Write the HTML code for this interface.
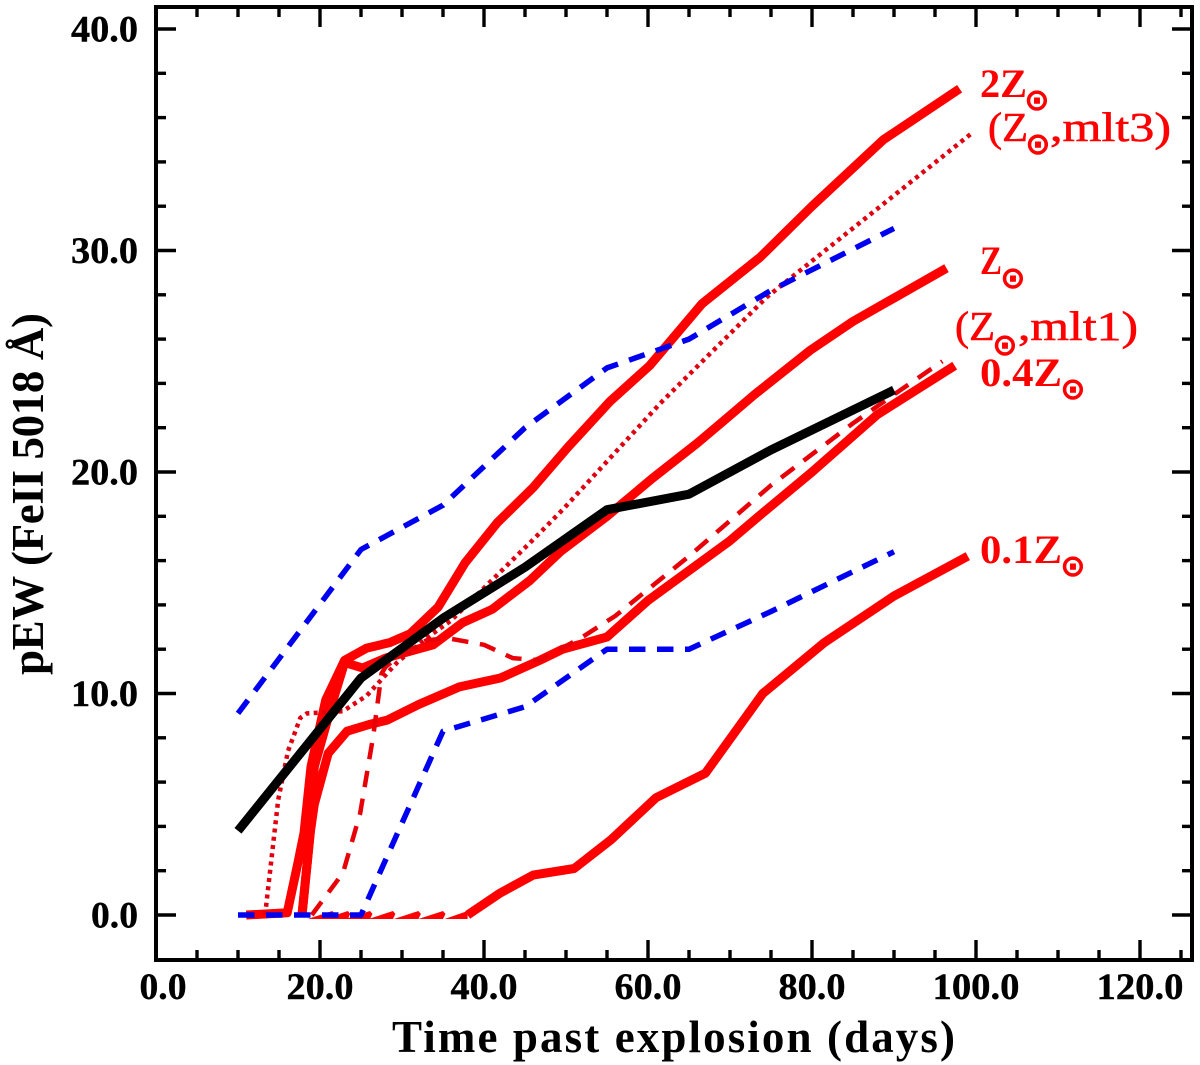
<!DOCTYPE html>
<html lang="en">
<head>
<meta charset="utf-8">
<title>pEW FeII 5018 vs time past explosion</title>
<style>
html,body{margin:0;padding:0;background:#fff;}
svg{display:block;}
.tick{font-family:"Liberation Serif",serif;font-weight:bold;font-size:37px;fill:#000;stroke:#000;stroke-width:.4px;}
.title{font-family:"Liberation Serif",serif;font-weight:bold;font-size:45px;fill:#000;}
.lab{font-family:"Liberation Serif",serif;font-weight:bold;font-size:40px;fill:#f00;}
.lab2{font-family:"Liberation Serif",serif;font-weight:normal;font-size:41px;fill:#f00;stroke:#f00;stroke-width:.6px;}
.sun{font-family:"DejaVu Sans",sans-serif;font-weight:bold;font-size:30px;fill:#f00;stroke:#f00;stroke-width:.6px;text-anchor:middle;}
</style>
</head>
<body>
<svg id="chart" xmlns="http://www.w3.org/2000/svg" width="1200" height="1065" viewBox="0 0 1200 1065">
<rect width="1200" height="1065" fill="#fff"/>
<g id="marks"></g>
<g id="axes"></g>
<text class="title" x="392" y="1052" textLength="563" lengthAdjust="spacing">Time past explosion (days)</text>
<text class="title" transform="translate(43,675) rotate(-90)" textLength="362" lengthAdjust="spacing">pEW (FeII 5018 Å)</text>

<g><text class="lab" x="980" y="97" textLength="47" lengthAdjust="spacingAndGlyphs">2Z</text><text class="sun" x="1037" y="110">⊙</text></g>
<g><text class="lab2" x="988" y="141" textLength="40" lengthAdjust="spacingAndGlyphs">(Z</text><text class="sun" x="1038" y="154">⊙</text><text class="lab2" x="1050" y="141" textLength="121" lengthAdjust="spacingAndGlyphs">,mlt3)</text></g>
<g><text class="lab" x="980" y="274" textLength="22" lengthAdjust="spacingAndGlyphs">Z</text><text class="sun" x="1013" y="288">⊙</text></g>
<g><text class="lab2" x="955" y="340" textLength="40" lengthAdjust="spacingAndGlyphs">(Z</text><text class="sun" x="1005" y="355">⊙</text><text class="lab2" x="1018" y="340" textLength="120" lengthAdjust="spacingAndGlyphs">,mlt1)</text></g>
<g><text class="lab" x="980" y="386" textLength="82" lengthAdjust="spacingAndGlyphs">0.4Z</text><text class="sun" x="1073" y="399">⊙</text></g>
<g><text class="lab" x="980" y="563" textLength="82" lengthAdjust="spacingAndGlyphs">0.1Z</text><text class="sun" x="1073" y="576">⊙</text></g>
</svg>
<script>
const xTickValues = [0, 20, 40, 60, 80, 100, 120];
const xTickLabels = ["0.0", "20.0", "40.0", "60.0", "80.0", "100.0", "120.0"];
const yTickValues = [0, 10, 20, 30, 40];
const yTickLabels = ["0.0", "10.0", "20.0", "30.0", "40.0"];

const z2Days = [11, 16, 17.3, 18.05, 18.9, 20.7, 23, 25.7, 28.5, 31, 34.4, 37.7, 41.6, 46, 50.2, 55.4, 60.2, 66.6, 73.7, 80, 88.7, 98];
const z2Pew = [0, 0.1, 2.35, 3.7, 6.7, 9.7, 11.5, 12.05, 12.3, 12.7, 13.9, 15.9, 17.7, 19.3, 21.1, 23.2, 24.8, 27.6, 29.7, 32, 35, 37.3];
const z1Days = [17.8, 18.8, 19.3, 21.6, 23, 25.2, 28, 33.8, 37.4, 41, 45.6, 49.3, 55, 60.5, 66, 69.2, 73, 79.8, 85, 96.4];
const z1Pew = [0, 3.7, 6.7, 9.7, 11.4, 11.15, 11.6, 12.2, 13.2, 13.8, 15.1, 16.4, 18, 19.7, 21.3, 22.3, 23.5, 25.5, 26.8, 29.2];
const z04Days = [17.8, 18.8, 19.3, 21, 23.3, 26, 28.2, 32, 37, 42, 46.8, 49.6, 55, 60, 70, 73.5, 80, 88, 97.4];
const z04Pew = [0, 3.7, 5, 7.3, 8.3, 8.6, 8.8, 9.5, 10.3, 10.7, 11.5, 12, 12.55, 14.2, 16.9, 18, 20, 22.6, 24.8];
const z01Days = [38, 42, 46, 51, 55.5, 61, 67, 74, 81.5, 90, 99];
const z01Pew = [0, 1, 1.8, 2.1, 3.4, 5.3, 6.4, 10, 12.3, 14.4, 16.2];
const z01ToothTips = [21.5, 23.4, 26.1, 28.9, 32, 35];

const mlt1Days = [19, 22.8, 24.9, 26.5, 27.5, 28, 30, 33, 35.5, 40, 43.5, 46.8, 52, 56, 60, 65, 70, 75, 80, 85, 90, 95.9];
const mlt1Pew = [0, 1.9, 4.6, 8.1, 10.9, 11.2, 11.8, 12.4, 12.5, 12.2, 11.6, 11.5, 12.55, 13.5, 14.7, 16.2, 17.8, 19.4, 20.8, 22.2, 23.5, 25];
const mlt3Days = [13.3, 14.9, 16.1, 17.6, 18.4, 22.8, 25.7, 29.4, 33, 36, 39, 45.6, 49.6, 61.5, 74.5, 88.7, 99.5];
const mlt3Pew = [0, 5.2, 7.4, 8.9, 9.1, 9.2, 9.9, 11.4, 12.5, 13.3, 14.4, 16.8, 18.3, 23.1, 27.9, 32.1, 35.3];

const blueUpperDays = [10, 25, 35, 45, 55, 65, 75, 90];
const blueUpperPew = [9.1, 16.5, 18.5, 22, 24.7, 26, 28.2, 31];
const blueLowerDays = [10, 25, 35, 45, 55, 65, 75, 90];
const blueLowerPew = [0, 0, 8.3, 9.4, 12, 12, 13.7, 16.4];
const blackDays = [10, 25, 35, 45, 55, 65, 75, 90];
const blackPew = [3.8, 10.7, 13.4, 15.7, 18.3, 19, 21, 23.7];

const NS = 'http://www.w3.org/2000/svg';
function xScale(v) { return 156 + v * 8.2; }
function yScale(v) { return 915 - v * 22.15; }

function drawLine(group, name, days, pew, color, width, dash) {
  const el = document.createElementNS(NS, 'polyline');
  
  
  el.setAttribute('points', days.map((d, i) => xScale(d).toFixed(1) + ',' + yScale(pew[i]).toFixed(1)).join(' '));
  el.setAttribute('fill', 'none');
  el.setAttribute('stroke', color);
  el.setAttribute('stroke-width', width);
  el.setAttribute('stroke-linejoin', 'round');
  if (dash) el.setAttribute('stroke-dasharray', dash);
  group.appendChild(el);
}

const marks = document.getElementById('marks');
z01ToothTips.forEach(function (tip) {
  const tooth = document.createElementNS(NS, 'polygon');
  
  
  const pts = [[tip - 3, -0.18], [tip, 0.18], [tip + 0.3, 0.05], [tip, -0.18]];
  tooth.setAttribute('points', pts.map(p => xScale(p[0]).toFixed(1) + ',' + yScale(p[1]).toFixed(1)).join(' '));
  tooth.setAttribute('fill', '#f00');
  marks.appendChild(tooth);
});
const lastToothBase = document.createElementNS(NS, 'polygon');


lastToothBase.setAttribute('points', [[35.2, -0.18], [38, 0.18], [38, -0.18]].map(p => xScale(p[0]).toFixed(1) + ',' + yScale(p[1]).toFixed(1)).join(' '));
lastToothBase.setAttribute('fill', '#f00');
marks.appendChild(lastToothBase);

drawLine(marks, 'series-0-1z', z01Days, z01Pew, '#f00', 9);
drawLine(marks, 'series-0-4z', z04Days, z04Pew, '#f00', 9);
drawLine(marks, 'series-z-solar', z1Days, z1Pew, '#f00', 9);
drawLine(marks, 'series-2z', z2Days, z2Pew, '#f00', 9);
drawLine(marks, 'series-solar-mlt3', mlt3Days, mlt3Pew, '#e00010', 4.5, '4 4.3');
drawLine(marks, 'series-solar-mlt1', mlt1Days, mlt1Pew, '#e80008', 4.5, '16.5 11.7');
drawLine(marks, 'series-blue-upper', blueUpperDays, blueUpperPew, '#0000f0', 5.5, '16.5 11.7');
drawLine(marks, 'series-blue-lower', blueLowerDays, blueLowerPew, '#0000f0', 5.5, '16.5 11.5');
drawLine(marks, 'series-black', blackDays, blackPew, '#000', 9);

const axes = document.getElementById('axes');
const LEFT = 156, RIGHT = 1192, TOP = 7, BOTTOM = 960;

function addTick(name, x1, y1, x2, y2) {
  const t = document.createElementNS(NS, 'line');
  
  
  t.setAttribute('x1', x1);
  t.setAttribute('y1', y1);
  t.setAttribute('x2', x2);
  t.setAttribute('y2', y2);
  t.setAttribute('stroke', '#000');
  t.setAttribute('stroke-width', 3.4);
  axes.appendChild(t);
}

const frame = document.createElementNS(NS, 'rect');


frame.setAttribute('x', LEFT);
frame.setAttribute('y', TOP);
frame.setAttribute('width', RIGHT - LEFT);
frame.setAttribute('height', BOTTOM - TOP);
frame.setAttribute('fill', 'none');
frame.setAttribute('stroke', '#000');
frame.setAttribute('stroke-width', 4);
axes.appendChild(frame);

for (let d = 5; d <= 125; d += 5) {
  const len = d % 20 === 0 ? 20 : 10;
  const px = xScale(d);
  addTick('x-tick-bottom', px, BOTTOM, px, BOTTOM - len);
  addTick('x-tick-top', px, TOP, px, TOP + len);
}
for (let v = 0; v <= 40; v += 2) {
  const len = v % 10 === 0 ? 20 : 10;
  const py = yScale(v);
  addTick('y-tick-left', LEFT, py, LEFT + len, py);
  addTick('y-tick-right', RIGHT, py, RIGHT - len, py);
}

function addLabel(name, text, x, y, anchor) {
  const t = document.createElementNS(NS, 'text');
  
  
  t.setAttribute('class', 'tick');
  t.setAttribute('x', x);
  t.setAttribute('y', y);
  t.setAttribute('text-anchor', anchor);
  t.setAttribute('textLength', text.length * 20 - 13);
  t.setAttribute('lengthAdjust', 'spacingAndGlyphs');
  t.textContent = text;
  axes.appendChild(t);
}
xTickValues.forEach(function (v, i) {
  addLabel('x-tick-label', xTickLabels[i], xScale(v) + (v === 0 ? 7 : 0), 999, 'middle');
});
yTickValues.forEach(function (v, i) {
  addLabel('y-tick-label', yTickLabels[i], 138, yScale(v) + 12.5, 'end');
});
</script>
</body>
</html>
